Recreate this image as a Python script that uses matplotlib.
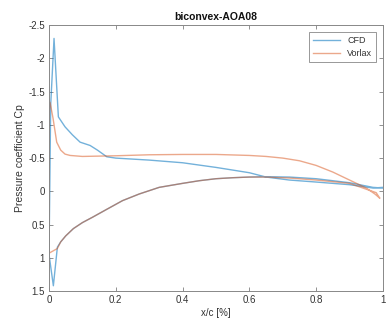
import matplotlib.pyplot as plt

plt.rcParams['font.family'] = ['Liberation Sans', 'DejaVu Sans']

# CFD, one closed curve: upper surface from TE to LE, then lower surface back to TE
cfd_x = [1.0, 0.97, 0.9, 0.8, 0.72, 0.65, 0.6, 0.5, 0.4, 0.3, 0.2, 0.173, 0.145, 0.123,
         0.093, 0.07, 0.048, 0.028, 0.015, 0.005, 0.0,
         0.013, 0.025, 0.035, 0.05, 0.073, 0.1, 0.13, 0.173, 0.22, 0.27, 0.33, 0.4, 0.45,
         0.5, 0.55, 0.6, 0.65, 0.72, 0.8, 0.9, 0.97, 1.0]
cfd_cp = [-0.06, -0.05, -0.1, -0.14, -0.17, -0.215, -0.28, -0.36, -0.43, -0.47, -0.5, -0.52, -0.62, -0.69,
          -0.74, -0.85, -0.97, -1.12, -2.3, -1.3, 0.95,
          1.42, 0.84, 0.76, 0.67, 0.56, 0.47, 0.39, 0.27, 0.14, 0.04, -0.06, -0.12, -0.16,
          -0.19, -0.205, -0.215, -0.22, -0.215, -0.19, -0.13, -0.06, -0.05]

# Vorlax, same ordering
vor_x = [0.99, 0.976, 0.95, 0.9, 0.85, 0.8, 0.75, 0.7, 0.65, 0.6, 0.5, 0.4, 0.3, 0.2, 0.1, 0.063,
         0.048, 0.035, 0.023, 0.012, 0.003, 0.0,
         0.0, 0.025, 0.035, 0.05, 0.073, 0.1, 0.13, 0.173, 0.22, 0.27, 0.33, 0.4, 0.45,
         0.5, 0.55, 0.6, 0.65, 0.72, 0.8, 0.9, 0.98, 0.99]
vor_cp = [0.1, 0.04, -0.05, -0.17, -0.29, -0.39, -0.46, -0.5, -0.525, -0.54, -0.555, -0.555, -0.55,
          -0.535, -0.525, -0.54, -0.56, -0.62, -0.74, -1.1, -1.34, -1.2,
          0.93, 0.86, 0.76, 0.67, 0.56, 0.47, 0.39, 0.27, 0.14, 0.04, -0.06, -0.12, -0.16,
          -0.19, -0.205, -0.215, -0.215, -0.2, -0.17, -0.12, 0.02, 0.1]

xticks = [0, 0.2, 0.4, 0.6, 0.8, 1]
xticklabels = ['0', '0.2', '0.4', '0.6', '0.8', '1']
yticks = [-2.5, -2, -1.5, -1, -0.5, 0, 0.5, 1, 1.5]
yticklabels = ['-2.5', '-2', '-1.5', '-1', '-0.5', '0', '0.5', '1', '1.5']

fig = plt.figure(figsize=(3.86, 3.22), dpi=100)
ax = fig.add_axes([0.127, 0.096, 0.865, 0.826])

ax.plot(cfd_x, cfd_cp, color='#0072bd', alpha=0.55, lw=1.0, label='CFD')
ax.plot(vor_x, vor_cp, color='#d95319', alpha=0.5, lw=1.0, label='Vorlax')

ax.set_xlim(0, 1)
ax.set_ylim(1.5, -2.5)
ax.set_xticks(xticks)
ax.set_xticklabels(xticklabels)
ax.set_yticks(yticks)
ax.set_yticklabels(yticklabels)
ax.tick_params(direction='in', length=3, width=0.6, labelsize=7, colors='#808080',
               labelcolor='#333333', top=True, right=True, pad=3)
for s in ax.spines.values():
    s.set_color('#888888')
    s.set_linewidth(0.7)

ax.set_title('biconvex-AOA08', fontsize=7.5, fontweight='bold', pad=4, color='#111111')
ax.set_xlabel('x/c [%]', fontsize=7, color='#333333', labelpad=2)
ax.set_ylabel('Pressure coefficient Cp', fontsize=7.5, color='#333333', labelpad=2)

leg = ax.legend(loc='upper right', fontsize=6.5, fancybox=False, framealpha=1,
                edgecolor='#888888', handlelength=3, borderaxespad=0.8)
leg.get_frame().set_linewidth(0.6)
for t in leg.get_texts():
    t.set_color('#333333')

fig.savefig('out.png', dpi=100)
